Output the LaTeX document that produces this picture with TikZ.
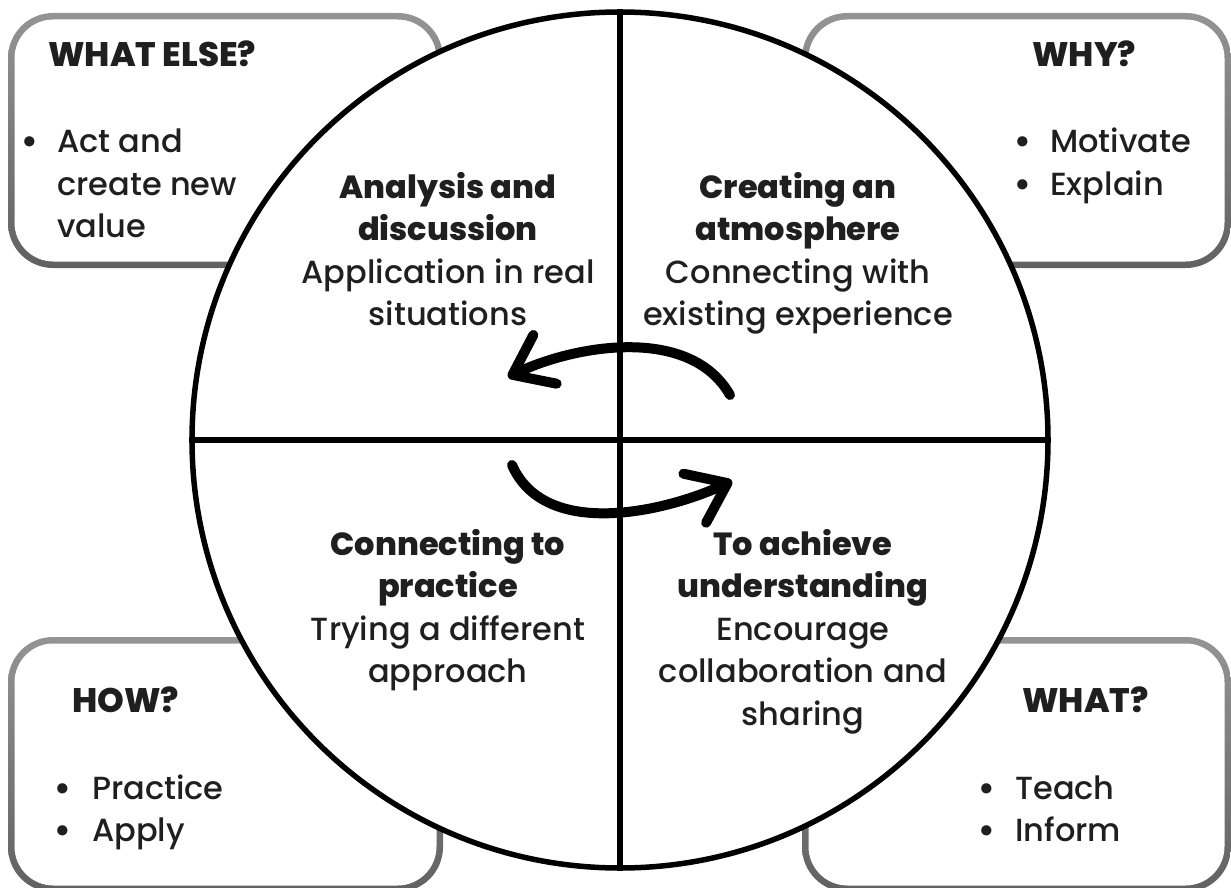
\documentclass[tikz,border=0pt]{standalone}
\usepackage{fontspec}
\setmainfont{Poppins}[UprightFont={Poppins Medium}, BoldFont={Poppins ExtraBold}]
\usetikzlibrary{arrows.meta,positioning}
\tikzset{
	heading/.style={anchor=base west, inner sep=0pt, font=\fontsize{34}{42.5}\selectfont\bfseries, text=black!88},
	points/.style={anchor=base west, inner sep=0pt, font=\fontsize{32}{42.5}\selectfont, text=black!88},
	dot/.style={anchor=base, inner sep=0pt, font=\fontsize{32}{42.5}\selectfont\bfseries, text=black!88},
	quarter/.style={anchor=base, inner sep=0pt, font=\fontsize{32}{42.5}\selectfont, text=black!88},
	turn/.style={line width=10pt, line cap=round, -{Straight Barb[length=36pt, width=54pt, line width=10pt, round]}}
}
\newcommand{\cornerbox}[4]{
	\shade[rounded corners=45pt, top color=black!42, middle color=black!6, bottom color=black!62] (#1,#2) rectangle (#3,#4);
	\fill[white, rounded corners=39pt] ({#1+6.5},{#2+6.5}) rectangle ({#3-6.5},{#4-6.5});
}

\begin{document}
\begin{tikzpicture}[x=1pt, y=-1pt]
	\useasboundingbox[fill=white] (0,0) rectangle (1231,888);

	% corner boxes
	\cornerbox{8}{13}{443}{268}
	\cornerbox{802}{13}{1231}{268}
	\cornerbox{8}{637}{443}{892}
	\cornerbox{802}{637}{1231}{892}

	% the wheel
	\node[circle, draw, line width=5.5pt, fill=white, minimum size=856pt, inner sep=0pt] (wheel) at (620,440) {};
	\draw[line width=5.5pt] (wheel.north) -- (wheel.south);
	\draw[line width=5.5pt] (wheel.west) -- (wheel.east);

	\coordinate (upper-start) at (730,395);
	\coordinate (upper-end) at (508,377);
	\draw[turn] (upper-start) .. controls (690,325) and (575,345) .. (upper-end);
	\coordinate (lower-start) at (512,465);
	\coordinate (lower-end) at (732,481);
	\draw[turn] (lower-start) .. controls (545,540) and (665,512) .. (lower-end);

	% quarters
	\node[quarter] (analysis) at (448,198) {\begin{tabular}[t]{@{}c@{}}\textbf{Analysis and}\\\textbf{discussion}\\Application in real\\situations\end{tabular}};
	\node[quarter] (atmosphere) at (798,198) {\begin{tabular}[t]{@{}c@{}}\textbf{Creating an}\\\textbf{atmosphere}\\Connecting with\\existing experience\end{tabular}};
	\node[quarter] (practice) at (448,555) {\begin{tabular}[t]{@{}c@{}}\textbf{Connecting to}\\\textbf{practice}\\Trying a different\\approach\end{tabular}};
	\node[quarter] (understanding) at (803,555) {\begin{tabular}[t]{@{}c@{}}\textbf{To achieve}\\\textbf{understanding}\\Encourage\\collaboration and\\sharing\end{tabular}};

	% box texts
	\node[heading] (else-head) at (48,67) {WHAT ELSE?};
	\node[dot] (else-dot) at (30,153) {•};
	\node[points] (else-list) at (57,153) {\begin{tabular}[t]{@{}l@{}}Act and\\create new\\value\end{tabular}};

	\node[heading] (why-head) at (1032,67) {WHY?};
	\node[dot] (why-dot-1) at (1023,153) {•};
	\node[dot] (why-dot-2) at (1023,195.5) {•};
	\node[points] (why-list) at (1050,153) {\begin{tabular}[t]{@{}l@{}}Motivate\\Explain\end{tabular}};

	\node[heading] (how-head) at (72,712) {HOW?};
	\node[dot] (how-dot-1) at (63,799) {•};
	\node[dot] (how-dot-2) at (63,841.5) {•};
	\node[points] (how-list) at (92,799) {\begin{tabular}[t]{@{}l@{}}Practice\\Apply\end{tabular}};

	\node[heading] (what-head) at (1022,712) {WHAT?};
	\node[dot] (what-dot-1) at (987,799) {•};
	\node[dot] (what-dot-2) at (987,841.5) {•};
	\node[points] (what-list) at (1015,799) {\begin{tabular}[t]{@{}l@{}}Teach\\Inform\end{tabular}};
\end{tikzpicture}
\end{document}
